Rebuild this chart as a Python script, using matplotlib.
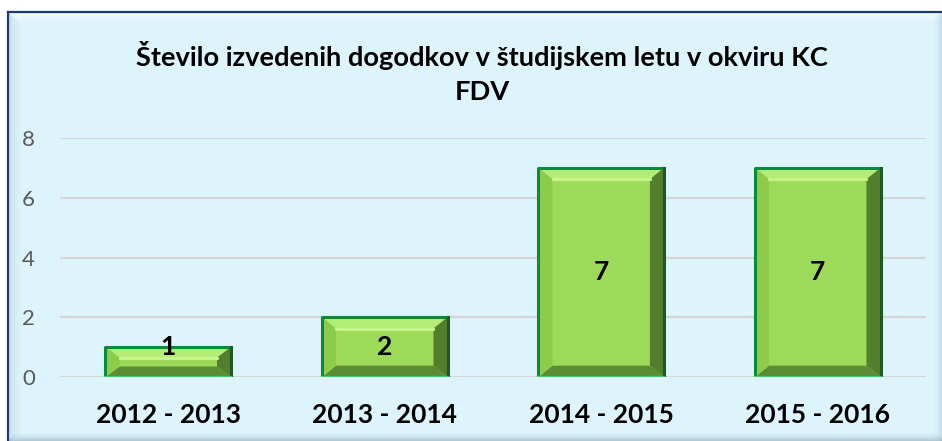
import matplotlib.pyplot as plt
from matplotlib.patches import Polygon, Rectangle

plt.rcParams['font.family'] = ['Lato', 'DejaVu Sans']

TITLE = "Število izvedenih dogodkov v študijskem letu v okviru KC\nFDV"
YEARS = ["2012 - 2013", "2013 - 2014", "2014 - 2015", "2015 - 2016"]
EVENTS = [1, 2, 7, 7]
Y_TICKS = [0, 2, 4, 6, 8]

BG = "#DDF4FD"
FACE = "#9DDA59"
EDGE = "#0B8A3B"

W, H = 942, 441
fig = plt.figure(figsize=(W / 100, H / 100), dpi=100)
fig.patch.set_facecolor("white")


def fx(px):
    return px / W


def fy(py):
    return 1 - py / H


# okvir grafa (bevel)
L, T, R, B = 8, 12, 944, 443
fig.add_artist(Rectangle((fx(L), fy(B)), fx(R - L), fy(T) - fy(B),
                         transform=fig.transFigure, facecolor=BG, edgecolor="none", zorder=0))
bw = 16
for i in range(bw):
    a = (1 - i / bw) ** 2
    # zgoraj svetlo
    fig.add_artist(Rectangle((fx(L + i), fy(T + i + 1)), fx(R - L - 2 * i), fy(T + i) - fy(T + i + 1),
                             transform=fig.transFigure, facecolor="white", alpha=a * 0.6,
                             edgecolor="none", zorder=0.1))
    # levo senca
    fig.add_artist(Rectangle((fx(L + i), fy(B - i)), fx(1), fy(T + i) - fy(B - i),
                             transform=fig.transFigure, facecolor="#8FA9BF", alpha=a * 0.3,
                             edgecolor="none", zorder=0.1))
for i in range(10):
    a = (1 - i / 10) ** 2
    fig.add_artist(Rectangle((fx(W - i - 1), fy(B - i)), fx(1), fy(T + i) - fy(B - i),
                             transform=fig.transFigure, facecolor="#8FA9BF", alpha=a * 0.3,
                             edgecolor="none", zorder=0.1))
    fig.add_artist(Rectangle((fx(L + i), fy(H - i)), fx(R - L - 2 * i), fy(H - i - 1) - fy(H - i),
                             transform=fig.transFigure, facecolor="#7F97AA", alpha=a * 0.45,
                             edgecolor="none", zorder=0.1))
fig.add_artist(plt.Line2D([fx(L), fx(R)], [fy(T), fy(T)], transform=fig.transFigure,
                          color="#1F3A6E", lw=1.6, zorder=0.2))
fig.add_artist(plt.Line2D([fx(L), fx(L)], [fy(T), fy(B)], transform=fig.transFigure,
                          color="#1F3A6E", lw=1.6, zorder=0.2))

ax = fig.add_axes([fx(60), fy(377), fx(926 - 60), fy(138) - fy(377)])
ax.set_facecolor("none")
ax.set_ylim(0, 8)
ax.set_xlim(-0.5, len(YEARS) - 0.5)
ax.set_yticks(Y_TICKS)
ax.yaxis.grid(True, color="#D6D6D6", lw=1.6)
ax.set_axisbelow(True)
for s in ax.spines.values():
    s.set_visible(False)
ax.tick_params(axis="y", length=0, pad=18, labelsize=16, labelcolor="#595959")
ax.tick_params(axis="x", length=0, pad=19, labelsize=19)

x = list(range(len(YEARS)))
bars = ax.bar(x, EVENTS, width=0.58, color=FACE, edgecolor="none", zorder=2)
ax.set_xticks(x)
ax.set_xticklabels(YEARS, fontweight="bold")

bx = 0.065   # sirina bevela v x
by = 0.38    # visina bevela v y
for rect in bars:
    x0, w, h = rect.get_x(), rect.get_width(), rect.get_height()
    x1 = x0 + w
    byy = min(by, h * 0.35)
    top = [(x0, h), (x1, h), (x1 - bx, h - byy), (x0 + bx, h - byy)]
    bot = [(x0, 0), (x1, 0), (x1 - bx, byy), (x0 + bx, byy)]
    lef = [(x0, 0), (x0, h), (x0 + bx, h - byy), (x0 + bx, byy)]
    rig = [(x1, 0), (x1, h), (x1 - bx, h - byy), (x1 - bx, byy)]
    ax.add_patch(Polygon(top, facecolor="#B5EC76", edgecolor="none", zorder=3))
    ax.add_patch(Polygon(bot, facecolor="#5E8C36", edgecolor="none", zorder=3))
    ax.add_patch(Polygon(lef, facecolor="#8CCB4C", edgecolor="none", zorder=3))
    ax.add_patch(Polygon(rig, facecolor="#527E2E", edgecolor="none", zorder=3))
    # svetla crta pod zgornjim bevelom
    ax.plot([x0 + bx, x1 - bx], [h - byy, h - byy], color="#C9F78F", lw=2, zorder=3.5)
    ax.plot([x0, x0, x1], [0, h, h], color=EDGE, lw=2.2, zorder=4, solid_capstyle="butt")
    ax.plot([x1, x1], [0, h], color="#1D5A24", lw=2.2, zorder=4)
    ax.plot([x0, x1], [0, 0], color="#3CCB6A", lw=1.6, zorder=4)

for xi, v in zip(x, EVENTS):
    # pri nizkem stolpcu Excel postavi oznako ob vrh
    yl = v / 2 if v > 1 else v
    ax.text(xi, yl, str(v), ha="center", va="center", fontsize=19,
            fontweight="bold", color="black", zorder=5)

fig.text(fx(482), fy(72), TITLE, ha="center", va="center", fontsize=19.6,
         fontweight="bold", linespacing=1.5)

fig.savefig("out.png", dpi=100)
